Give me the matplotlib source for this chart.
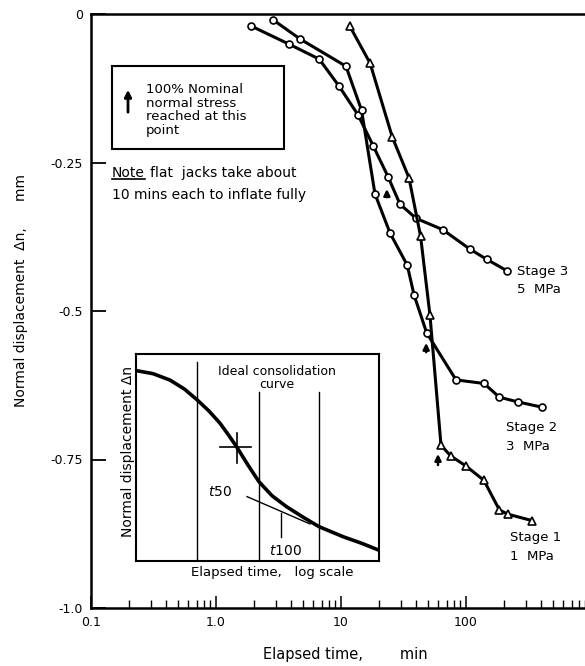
import numpy as np
import matplotlib.pyplot as plt
from matplotlib.patches import Rectangle
from matplotlib.lines import Line2D

plt.rcParams.update({'font.size': 9, 'font.family': 'DejaVu Sans'})

# ---- data ----
t_s3 = [1.90, 3.86, 6.70, 9.69, 13.7, 18.1, 23.8, 29.6, 39.8, 65.1, 107.7, 146.4, 211.6]
d_s3 = [-0.020, -0.051, -0.076, -0.122, -0.170, -0.222, -0.274, -0.320, -0.344, -0.363, -0.396, -0.413, -0.432]

t_s2 = [2.87, 4.70, 10.96, 14.6, 18.7, 24.7, 33.9, 38.4, 48.5, 83.2, 139.3, 184.6, 259, 407]
d_s2 = [-0.010, -0.042, -0.088, -0.162, -0.303, -0.369, -0.423, -0.473, -0.537, -0.616, -0.622, -0.645, -0.653, -0.662]

t_s1 = [11.8, 17.1, 25.7, 35.0, 43.3, 51.5, 63.1, 75.5, 100, 139, 185, 216, 339]
d_s1 = [-0.021, -0.083, -0.207, -0.276, -0.374, -0.507, -0.726, -0.744, -0.761, -0.785, -0.835, -0.842, -0.853]

# 100% normal stress arrows (time, tip, tail)
arr_t = [23.3, 48.0, 59.7]
arr_tip = [-0.290, -0.549, -0.736]
arr_tail = [-0.313, -0.574, -0.764]

# inset ideal consolidation curve (axes fraction)
ic_x = [0.0, 0.07, 0.14, 0.20, 0.252, 0.30, 0.346, 0.38, 0.414, 0.46, 0.506, 0.56, 0.62, 0.69, 0.753, 0.853, 0.93, 1.0]
ic_y = [0.920, 0.905, 0.874, 0.830, 0.778, 0.725, 0.665, 0.610, 0.552, 0.465, 0.383, 0.315, 0.262, 0.210, 0.166, 0.117, 0.085, 0.052]

yticks = [0, -0.25, -0.5, -0.75, -1.0]
yticklabels = ['0', '-0.25', '-0.5', '-0.75', '-1.0']
xticks = [0.1, 1, 10, 100, 1000]
xticklabels = ['0.1', '1.0', '10', '100', '']

W, H = 585, 666
def fpos(x, y):
    return x / W, 1 - y / H

fig = plt.figure(figsize=(5.85, 6.66), dpi=100)
ax = fig.add_axes([91/W, 1-608/H, 500/W, 594/H])

lw = 2.2
ax.plot(t_s3, d_s3, '-o', color='k', lw=lw, ms=5, mfc='white', mec='k', mew=1.2)
ax.plot(t_s2, d_s2, '-o', color='k', lw=lw, ms=5, mfc='white', mec='k', mew=1.2)
ax.plot(t_s1, d_s1, '-^', color='k', lw=lw, ms=6, mfc='white', mec='k', mew=1.2)

for t, y0, y1 in zip(arr_t, arr_tail, arr_tip):
    ax.annotate('', xy=(t, y1), xytext=(t, y0),
                arrowprops=dict(arrowstyle='-|>', color='k', lw=1.8, mutation_scale=9))

ax.set_xscale('log')
ax.set_xlim(0.1, 1000)
ax.set_ylim(-1.0, 0)
ax.set_yticks(yticks)
ax.set_yticklabels(yticklabels)
ax.set_xticks(xticks)
ax.set_xticklabels(xticklabels)
ax.tick_params(axis='y', direction='in', length=11, width=1.3, pad=6, labelsize=9)
ax.tick_params(axis='x', which='major', direction='in', length=9, width=1.1, pad=6, labelsize=9)
ax.tick_params(axis='x', which='minor', direction='in', length=6, width=1.0)
ax.spines['right'].set_visible(False)
for s in ['left', 'bottom', 'top']:
    ax.spines[s].set_linewidth(1.8)

ax.set_ylabel('Normal displacement  Δn,      mm', fontsize=10)
ax.yaxis.set_label_coords(-0.126, 0.535)
ax.set_xlabel('Elapsed time,        min', fontsize=10.5)
ax.xaxis.set_label_coords(0.508, -0.066)

# stage labels
fig.text(*fpos(517, 280), 'Stage 3\n5  MPa', fontsize=9.5, va='center', linespacing=1.5)
fig.text(*fpos(506, 437), 'Stage 2\n3  MPa', fontsize=9.5, va='center', linespacing=1.5)
fig.text(*fpos(510, 547), 'Stage 1\n1  MPa', fontsize=9.5, va='center', linespacing=1.5)

# key box
x0, y0 = fpos(112, 149)
x1, y1 = fpos(284, 66)
fig.patches.append(Rectangle((x0, y0), x1 - x0, y1 - y0, transform=fig.transFigure,
                             fill=False, lw=1.5, ec='k'))
fig.text(*fpos(146, 110), '100% Nominal\nnormal stress\nreached at this\npoint',
         fontsize=9.5, va='center', linespacing=1.05)
ax.annotate('', xy=fpos(128, 87), xytext=fpos(128, 115), xycoords='figure fraction',
            textcoords='figure fraction',
            arrowprops=dict(arrowstyle='-|>', color='k', lw=2, mutation_scale=10))
note = fig.text(*fpos(112, 173), 'Note', fontsize=10, va='center')
fig.canvas.draw()
bb = note.get_window_extent().transformed(fig.transFigure.inverted())
fig.text(bb.x1 + 5 / W, fpos(0, 173)[1], 'flat  jacks take about', fontsize=10, va='center')
fig.text(*fpos(112, 195), '10 mins each to inflate fully', fontsize=10, va='center')
fig.lines.append(Line2D([bb.x0, bb.x1], [bb.y0 + 0.001, bb.y0 + 0.001],
                        transform=fig.transFigure, color='k', lw=1.2))

# inset
ins = fig.add_axes([136/W, 1-561/H, 243/W, 207/H])
ins.set_xlim(0, 1)
ins.set_ylim(0, 1)
ins.set_xticks([])
ins.set_yticks([])
for s in ins.spines.values():
    s.set_linewidth(1.5)
ins.plot(ic_x, ic_y, color='k', lw=2.6, solid_capstyle='round', solid_joinstyle='round')
ins.plot([0.252, 0.252], [0, 0.961], color='k', lw=1)
ins.plot([0.506, 0.506], [0, 0.816], color='k', lw=1)
ins.plot([0.753, 0.753], [0, 0.816], color='k', lw=1)
ins.plot([0.346, 0.473], [0.552, 0.552], color='k', lw=1.2)
ins.plot([0.414, 0.414], [0.473, 0.618], color='k', lw=1.2)
ins.plot([0.457, 0.716], [0.311, 0.179], color='k', lw=1)
ins.plot([0.597, 0.597], [0.116, 0.232], color='k', lw=1)
ins.text(0.58, 0.885, 'Ideal consolidation\ncurve', ha='center', va='center',
         fontsize=9, linespacing=0.95)
ins.text(0.346, 0.333, '$t$50', ha='center', va='center', fontsize=10)
ins.text(0.613, 0.05, '$t$100', ha='center', va='center', fontsize=10)
ins.set_ylabel('Normal displacement Δn', fontsize=10)
ins.yaxis.set_label_coords(-0.006, 0.53)
ins.set_xlabel('Elapsed time,   log scale', fontsize=9.5)
ins.xaxis.set_label_coords(0.56, -0.025)

fig.savefig('out.png', dpi=100)
